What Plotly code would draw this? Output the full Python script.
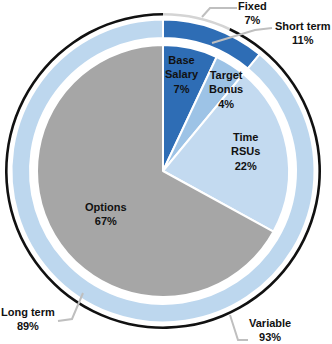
import plotly.graph_objects as go

W, H = 332, 344

# Data
inner_labels = ["Base Salary", "Target Bonus", "Time RSUs", "Options"]
inner_values = [7, 4, 22, 67]
ring_labels = ["Short term", "Long term"]
ring_values = [11, 89]
arc_labels = ["Fixed", "Variable"]
arc_values = [7, 93]

inner_colors = ["#2E6DB5", "#9DC3E6", "#C3DAF0", "#A6A6A6"]
ring_colors = ["#2E6DB5", "#BDD7EE"]
arc_colors = ["#D4D4D4", "#111111"]

CX, CY = 163, 171  # pixel center (from top)


def dom(r):
    cyb = H - CY
    return dict(x=[(CX - r) / W, (CX + r) / W], y=[(cyb - r) / H, (cyb + r) / H])


def px(x, y):
    return x / W, 1 - y / H


fig = go.Figure()
fig.add_trace(go.Pie(labels=arc_labels, values=arc_values, sort=False, direction="clockwise",
                     rotation=0, hole=155.4 / 158, domain=dom(158), textinfo="none",
                     marker=dict(colors=arc_colors, line=dict(width=0)), hoverinfo="skip"))
fig.add_trace(go.Pie(labels=ring_labels, values=ring_values, sort=False, direction="clockwise",
                     rotation=0, hole=133 / 151.5, domain=dom(151.5), textinfo="none",
                     marker=dict(colors=ring_colors, line=dict(color="white", width=2)),
                     hoverinfo="skip"))
fig.add_trace(go.Pie(labels=inner_labels, values=inner_values, sort=False, direction="clockwise",
                     rotation=0, domain=dom(126), textinfo="none",
                     marker=dict(colors=inner_colors, line=dict(color="white", width=2)),
                     hoverinfo="skip"))

font = dict(family="Liberation Sans, Arial, sans-serif", size=11, color="#111111")

inner_text = ["<b>Base<br>Salary<br>7%</b>", "<b>Target<br>Bonus<br>4%</b>",
              "<b>Time<br>RSUs<br>22%</b>", "<b>Options<br>67%</b>"]
inner_pos = [(182, 75), (226, 89), (245, 151), (106, 214)]
ann = []
for t, (x, y) in zip(inner_text, inner_pos):
    ax, ay = px(x, y)
    ann.append(dict(text=t, x=ax, y=ay, xref="paper", yref="paper", showarrow=False,
                    font=font, xanchor="center", yanchor="middle"))

outer_text = ["<b>Fixed<br>7%</b>", "<b>Short term<br>11%</b>",
              "<b>Long term<br>89%</b>", "<b>Variable<br>93%</b>"]
outer_pos = [(252, 13), (303, 33), (28, 319), (270, 330)]
for t, (x, y) in zip(outer_text, outer_pos):
    ax, ay = px(x, y)
    ann.append(dict(text=t, x=ax, y=ay, xref="paper", yref="paper", showarrow=False,
                    font=font, xanchor="center", yanchor="middle"))

leaders = [
    [(202, 17), (210, 8), (237, 8)],
    [(212, 43), (255, 30), (272, 28)],
    [(83, 293), (72, 319), (58, 321)],
    [(230, 315), (238, 340), (248, 340)],
]
shapes = []
for pts in leaders:
    path = ""
    for i, (x, y) in enumerate(pts):
        a, b = px(x, y)
        path += ("M" if i == 0 else "L") + f"{a},{b} "
    shapes.append(dict(type="path", path=path, xref="paper", yref="paper",
                       line=dict(color="#BFBFBF", width=2)))

fig.update_layout(width=W, height=H, margin=dict(l=0, r=0, t=0, b=0),
                  paper_bgcolor="white", plot_bgcolor="white", showlegend=False,
                  annotations=ann, shapes=shapes)
fig.write_html("out.html")
